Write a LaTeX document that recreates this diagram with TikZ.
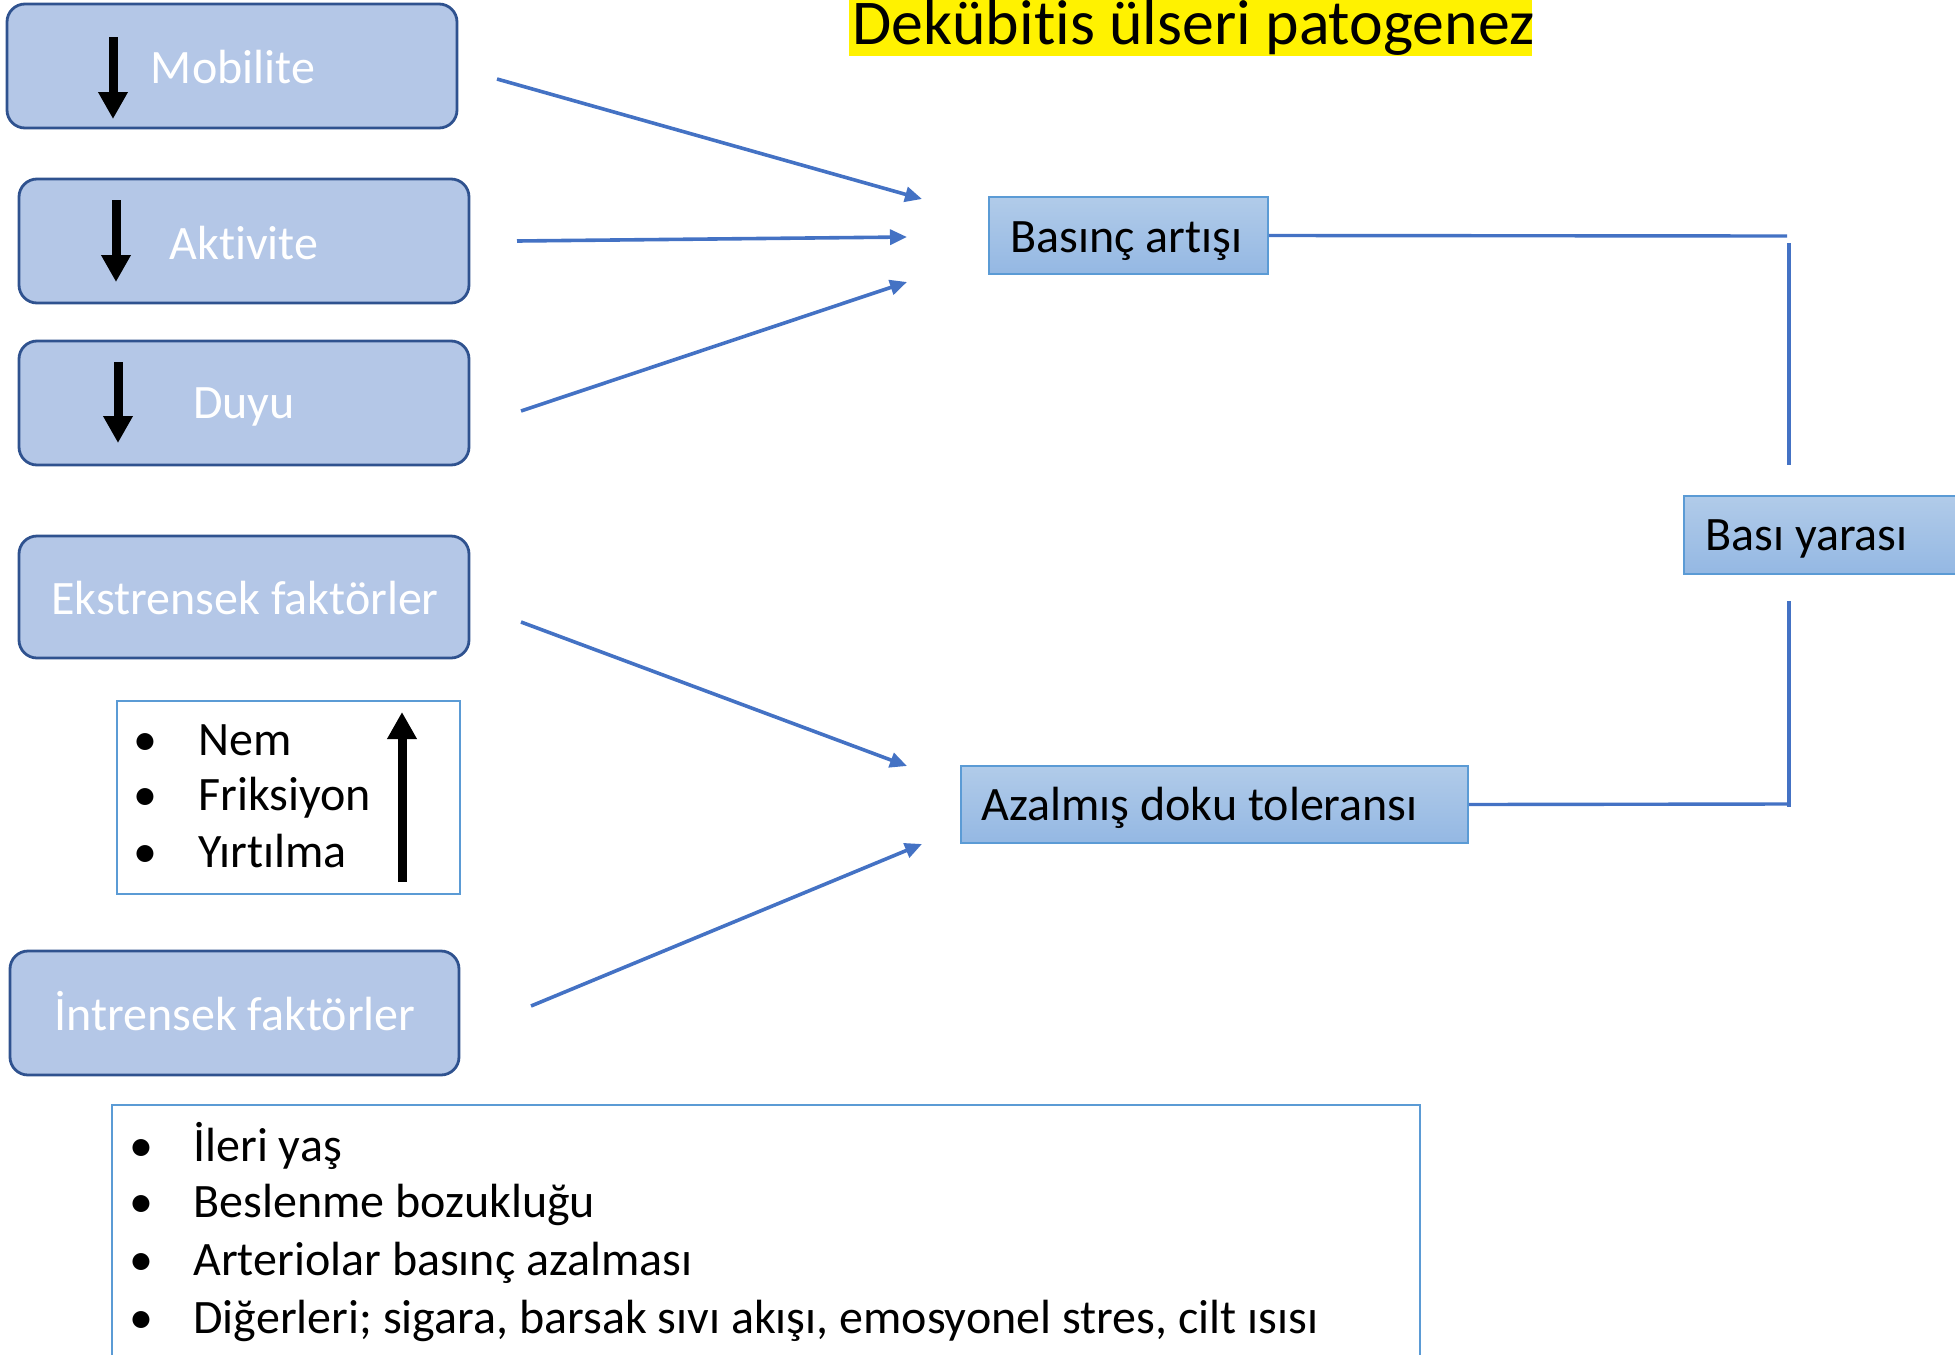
\documentclass[tikz,border=0pt]{standalone}
\usepackage{fontspec}
\setmainfont{Carlito}[Ligatures=NoCommon]
\usetikzlibrary{arrows.meta}
\definecolor{boxfill}{HTML}{B4C7E7}
\definecolor{boxline}{HTML}{2F528F}
\definecolor{connblue}{HTML}{4472C4}
\definecolor{lightline}{HTML}{5B9BD5}
\definecolor{gradtop}{HTML}{B1CBE9}
\definecolor{gradbot}{HTML}{94B8E3}
\begin{document}
\begin{tikzpicture}[x=0.5pt,y=-0.5pt,
  rbox/.style={draw=boxline,line width=1.4pt,fill=boxfill,rounded corners=9pt,minimum width=225pt,minimum height=62pt,inner sep=0pt},
  lbox/.style={draw=lightline,line width=1.3pt,fill=white,inner sep=0pt},
  gbox/.style={draw=lightline,line width=0.8pt,top color=gradtop,bottom color=gradbot,inner sep=0pt,minimum height=38.5pt},
  wtxt/.style={text=white,font=\fontsize{24}{29}\selectfont,anchor=base,inner sep=0pt},
  btxt/.style={text=black,font=\fontsize{24}{29}\selectfont,anchor=base west,inner sep=0pt},
  bul/.style={text=black,font=\fontsize{24}{29}\selectfont,anchor=base,inner sep=0pt},
  link/.style={draw=connblue,line width=1.8pt,-{Triangle[length=8.5pt,width=7.5pt]}},
  joinline/.style={draw=connblue,line width=1.7pt},
  blk/.style={draw=black,line width=4.5pt,-{Triangle[length=13.5pt,width=14pt]}}
]
\path[use as bounding box] (0,0) rectangle (1955,1355);
\clip (0,0) rectangle (1955,1355);

% title
\fill[yellow] (849,0) rectangle (1532,56);
\node[anchor=base west,inner sep=0pt,font=\fontsize{31.9}{36}\selectfont] (title) at (852,44) {Dekübitis ülseri patogenez};

% left rounded boxes
\node[rbox] (mob) at (232,66) {};
\node[rbox] (akt) at (244,241) {};
\node[rbox] (duy) at (244,403) {};
\node[rbox,minimum height=61pt] (eks) at (244,597) {};
\node[rbox,minimum width=224.5pt] (int) at (234.5,1013) {};

\node[wtxt] (mobt) at (233,83) {Mobilite};
\node[wtxt] (aktt) at (244,259) {Aktivite};
\node[wtxt] (duyt) at (244,418) {Duyu};
\node[wtxt] (ekst) at (245,614) {Ekstrensek faktörler};
\node[wtxt] (intt) at (235,1030) {İntrensek faktörler};

% black arrows
\draw[blk] (113,37) -- (113,119);
\draw[blk] (116,200) -- (116,282);
\draw[blk] (118,362) -- (118,443);

% Nem box
\node[lbox,minimum width=171.5pt,minimum height=96.5pt] (nem) at (288.5,797.5) {};
\node[bul] (nb1) at (145,755) {\textbullet};
\node[bul] (nb2) at (145,810) {\textbullet};
\node[bul] (nb3) at (145,867) {\textbullet};
\node[btxt] (nt1) at (198,755) {Nem};
\node[btxt] (nt2) at (198,810) {Friksiyon};
\node[btxt] (nt3) at (198,867) {Yırtılma};
\draw[blk] (402,882) -- (402,712);

% bottom list box
\node[lbox,minimum width=654pt,minimum height=147.5pt] (lst) at (766,1252.5) {};
\node[bul] (lb1) at (141,1161) {\textbullet};
\node[bul] (lb2) at (141,1217) {\textbullet};
\node[bul] (lb3) at (141,1275) {\textbullet};
\node[bul] (lb4) at (141,1333) {\textbullet};
\node[btxt] (lt1) at (193,1161) {İleri yaş};
\node[btxt] (lt2) at (193,1217) {Beslenme bozukluğu};
\node[btxt] (lt3) at (193,1275) {Arteriolar basınç azalması};
\node[btxt] (lt4) at (193,1333) {Diğerleri; sigara, barsak sıvı akışı, emosyonel stres, cilt ısısı};

% gradient boxes
\node[gbox,minimum width=139.5pt] (bas) at (1128.5,235.5) {};
\node[btxt] (bast) at (1010,252) {Basınç artışı};
\node[gbox,minimum width=253.5pt] (aza) at (1214.5,804.5) {};
\node[btxt] (azat) at (981,820) {Azalmış doku toleransı};
\node[gbox,minimum width=158pt,minimum height=39pt] (bya) at (1842,535) {};
\node[btxt] (byat) at (1705,550) {Bası yarası};

% connectors
\coordinate (m1) at (497,79);  \coordinate (m2) at (922,199);
\coordinate (a1) at (517,241); \coordinate (a2) at (907,237);
\coordinate (d1) at (521,411); \coordinate (d2) at (907,282);
\coordinate (e1) at (521,622); \coordinate (e2) at (907,766);
\coordinate (i1) at (531,1006); \coordinate (i2) at (922,844);
\draw[link] (m1) -- (m2);
\draw[link] (a1) -- (a2);
\draw[link] (d1) -- (d2);
\draw[link] (e1) -- (e2);
\draw[link] (i1) -- (i2);

\coordinate (r1) at (1787,236);
\coordinate (r2) at (1789,243);
\coordinate (r3) at (1789,465);
\coordinate (r4) at (1789,601);
\coordinate (r5) at (1789,807);
\coordinate (r6) at (1790,804);
\draw[joinline] (bas.east) -- (r1);
\draw[joinline] (r2) -- (r3);
\draw[joinline] (r4) -- (r5);
\draw[joinline] (aza.east) -- (r6);
\end{tikzpicture}
\end{document}
